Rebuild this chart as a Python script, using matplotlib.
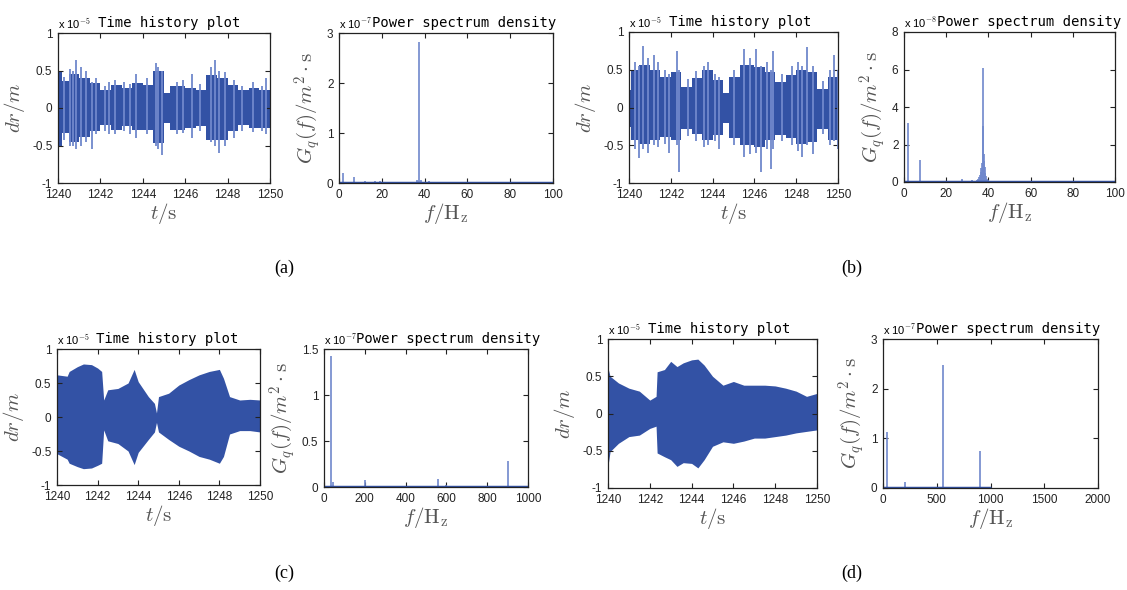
import numpy as np
import matplotlib
matplotlib.use('Agg')
import matplotlib.pyplot as plt

plt.rcParams['mathtext.fontset'] = 'cm'
plt.rcParams['font.family'] = ['Liberation Sans', 'DejaVu Sans']

# ---- time history envelopes (units of 1e-5 m) ----
t_a = [1240, 1240.2, 1240.5, 1241, 1241.5, 1242, 1242.5, 1243, 1243.5, 1244, 1244.5,
       1245, 1245.3, 1246, 1246.5, 1247, 1247.5, 1248, 1248.5, 1249, 1249.5, 1250]
hi_a = [0.49, 0.36, 0.45, 0.40, 0.33, 0.24, 0.31, 0.27, 0.33, 0.31, 0.49,
        0.20, 0.29, 0.27, 0.24, 0.44, 0.40, 0.31, 0.24, 0.27, 0.24, 0.24]
lo_a = [-0.51, -0.33, -0.45, -0.38, -0.31, -0.22, -0.29, -0.24, -0.29, -0.29, -0.47,
        -0.20, -0.29, -0.27, -0.24, -0.42, -0.42, -0.31, -0.22, -0.27, -0.27, -0.27]
sp_t_a = [1240.0, 1240.3, 1240.55, 1240.7, 1240.85, 1241.1, 1241.3, 1241.6, 1241.8,
          1242.2, 1242.4, 1242.7, 1243.1, 1243.4, 1243.7, 1244.2, 1244.6, 1244.7,
          1244.9, 1245.6, 1245.9, 1246.3, 1246.7, 1247.2, 1247.4, 1247.6, 1247.9,
          1248.3, 1248.7, 1249.2, 1249.6, 1249.8]
sp_hi_a = [0.45, 0.42, 0.52, 0.50, 0.64, 0.55, 0.50, 0.35, 0.40,
           0.30, 0.35, 0.38, 0.35, 0.32, 0.45, 0.40, 0.60, 0.55,
           0.50, 0.35, 0.38, 0.45, 0.32, 0.55, 0.64, 0.50, 0.48,
           0.38, 0.30, 0.35, 0.30, 0.40]
sp_lo_a = [-0.68, -0.42, -0.50, -0.50, -0.55, -0.50, -0.45, -0.55, -0.35,
           -0.30, -0.35, -0.35, -0.30, -0.35, -0.40, -0.35, -0.50, -0.55,
           -0.63, -0.35, -0.33, -0.40, -0.30, -0.45, -0.50, -0.60, -0.50,
           -0.40, -0.30, -0.32, -0.30, -0.35]

t_b = [1240, 1240.1, 1240.5, 1241, 1241.5, 1242, 1242.5, 1243, 1243.5, 1244, 1244.5,
       1244.8, 1245.3, 1246, 1246.5, 1247, 1247.5, 1248, 1248.5, 1249, 1249.5, 1250]
hi_b = [0.23, 0.50, 0.56, 0.50, 0.41, 0.47, 0.27, 0.39, 0.50, 0.36, 0.19,
        0.41, 0.56, 0.54, 0.47, 0.34, 0.43, 0.50, 0.47, 0.25, 0.41, 0.41]
lo_b = [-0.26, -0.43, -0.48, -0.43, -0.39, -0.43, -0.28, -0.35, -0.43, -0.36, -0.21,
        -0.41, -0.50, -0.52, -0.43, -0.36, -0.40, -0.48, -0.46, -0.28, -0.43, -0.43]
sp_t_b = [1240.0, 1240.3, 1240.5, 1240.65, 1240.9, 1241.2, 1241.4, 1241.7, 1241.9,
          1242.3, 1242.4, 1242.8, 1243.2, 1243.6, 1243.8, 1244.1, 1244.3, 1245.0,
          1245.5, 1245.8, 1246.1, 1246.3, 1246.6, 1246.8, 1246.9, 1247.3, 1247.8,
          1248.1, 1248.3, 1248.5, 1248.8, 1249.3, 1249.6, 1249.8, 1250.0]
sp_hi_b = [0.75, 0.60, 0.55, 0.82, 0.65, 0.70, 0.60, 0.50, 0.45,
           0.75, 0.50, 0.38, 0.48, 0.55, 0.60, 0.45, 0.40, 0.50,
           0.78, 0.65, 0.78, 0.55, 0.60, 0.50, 0.75, 0.45, 0.55,
           0.60, 0.55, 0.80, 0.55, 0.35, 0.50, 0.70, 0.50]
sp_lo_b = [-0.70, -0.55, -0.67, -0.55, -0.60, -0.50, -0.52, -0.48, -0.60,
           -0.50, -0.85, -0.38, -0.45, -0.52, -0.50, -0.45, -0.55, -0.50,
           -0.65, -0.62, -0.60, -0.85, -0.55, -0.82, -0.55, -0.45, -0.50,
           -0.58, -0.65, -0.50, -0.62, -0.35, -0.50, -0.45, -0.55]

t_c = [1240, 1240.5, 1240.6, 1241, 1241.3, 1241.7, 1242, 1242.2, 1242.3, 1242.5, 1243,
       1243.5, 1243.8, 1244, 1244.5, 1244.8, 1244.9, 1245, 1245.5, 1246, 1246.5, 1247,
       1247.5, 1248, 1248.2, 1248.5, 1249, 1249.5, 1250]
hi_c = [0.62, 0.60, 0.67, 0.74, 0.78, 0.77, 0.72, 0.67, 0.25, 0.40, 0.42,
        0.50, 0.70, 0.52, 0.30, 0.20, 0.06, 0.30, 0.35, 0.47, 0.55, 0.62,
        0.67, 0.70, 0.57, 0.30, 0.25, 0.26, 0.25]
lo_c = [-0.54, -0.62, -0.68, -0.73, -0.76, -0.75, -0.71, -0.68, -0.19, -0.35, -0.39,
        -0.50, -0.70, -0.52, -0.33, -0.22, -0.08, -0.22, -0.33, -0.43, -0.50, -0.58,
        -0.62, -0.68, -0.58, -0.25, -0.20, -0.20, -0.22]

t_d = [1240, 1240.1, 1240.5, 1241, 1241.5, 1242, 1242.3, 1242.35, 1242.7, 1243, 1243.3,
       1243.6, 1244, 1244.3, 1244.6, 1245, 1245.5, 1246, 1246.5, 1247, 1247.5, 1248,
       1248.5, 1249, 1249.5, 1250]
hi_d = [0.61, 0.50, 0.41, 0.34, 0.30, 0.18, 0.23, 0.56, 0.59, 0.70, 0.63,
        0.68, 0.72, 0.73, 0.65, 0.50, 0.38, 0.43, 0.38, 0.38, 0.38, 0.37,
        0.34, 0.30, 0.23, 0.27]
lo_d = [-0.70, -0.51, -0.40, -0.31, -0.29, -0.20, -0.17, -0.53, -0.58, -0.62, -0.71,
        -0.66, -0.67, -0.73, -0.62, -0.44, -0.38, -0.40, -0.37, -0.33, -0.33, -0.31,
        -0.29, -0.26, -0.24, -0.22]

# ---- power spectrum spikes ----
f_a = [2, 7, 12, 17, 19, 36.5, 37.5, 38.2, 42]
p_a = [0.20, 0.13, 0.05, 0.05, 0.04, 0.07, 2.82, 0.07, 0.05]        # x1e-7
f_b = [2, 7.5, 27.5, 32, 34.5, 35, 35.5, 36, 36.3, 36.6, 37, 37.3, 37.5, 37.7, 38, 38.3,
       38.6, 39, 39.5, 40, 41]
p_b = [3.15, 1.2, 0.15, 0.1, 0.1, 0.15, 0.25, 0.4, 0.55, 0.75, 1.0, 3.0, 6.1, 1.5, 1.1,
       0.8, 0.5, 0.3, 0.15, 0.1, 0.05]                              # x1e-8
f_c = [35, 45, 200, 560, 600, 900]
p_c = [1.42, 0.05, 0.08, 0.09, 0.02, 0.28]                          # x1e-7
f_d = [35, 200, 560, 900]
p_d = [1.13, 0.13, 2.47, 0.75]                                      # x1e-7
fmax_data = [100, 100, 1000, 1000]

BLUE = '#3352a5'
LIGHT = '#7088cc'
W, H = 1127, 590

fig = plt.figure(figsize=(W / 100, H / 100), dpi=100)


def add_ax(l, r, t, b):
    return fig.add_axes([l / W, 1 - b / H, (r - l) / W, (b - t) / H])


def style(ax):
    ax.tick_params(direction='in', top=True, right=True, length=3.5, width=0.8,
                   labelsize=8.5, colors='#222222', pad=4)
    for s in ax.spines.values():
        s.set_linewidth(0.9)
        s.set_color('#222222')


def time_panel(box, t, hi, lo, step, sp_t=None, sp_hi=None, sp_lo=None):
    ax = add_ax(*box)
    if sp_t is not None:
        ax.vlines(sp_t, sp_lo, sp_hi, color=LIGHT, lw=1.3)
    ax.fill_between(t, lo, hi, step='post' if step else None, color=BLUE, lw=0)
    ax.set_xlim(1240, 1250)
    ax.set_ylim(-1, 1)
    ax.set_xticks(range(1240, 1251, 2))
    ax.set_yticks([-1, -0.5, 0, 0.5, 1])
    ax.set_yticklabels(['-1', '-0.5', '0', '0.5', '1'])
    style(ax)
    ax.set_xlabel(r'$t/\mathrm{s}$', fontsize=15, color='#555555', labelpad=0)
    ax.set_ylabel(r'$dr/m$', fontsize=15, color='#555555', labelpad=4)
    ax.text(0, 1.015, r'x 10$^{-5}$', transform=ax.transAxes, fontsize=8, va='bottom', ha='left')
    ax.text(0.19, 1.02, 'Time history plot', transform=ax.transAxes, fontsize=10,
            family='DejaVu Sans Mono', va='bottom', ha='left')
    return ax


def psd_panel(box, f, p, fmax, xmax, ymax, xstep, ystep, exp):
    ax = add_ax(*box)
    ax.vlines(f, 0, p, color=LIGHT, lw=1.2)
    ax.plot([0, fmax], [0, 0], color=BLUE, lw=2.5, solid_capstyle='butt')
    ax.set_xlim(0, xmax)
    ax.set_ylim(0, ymax)
    ax.set_xticks(np.arange(0, xmax + 1, xstep))
    yt = np.arange(0, ymax + 1e-9, ystep)
    ax.set_yticks(yt)
    ax.set_yticklabels(['%g' % v for v in yt])
    style(ax)
    ax.set_xlabel(r'$f/\mathrm{H}_\mathrm{z}$', fontsize=15, color='#555555', labelpad=0)
    ax.set_ylabel(r'$G_q(f)/m^2\cdot\mathrm{s}$', fontsize=15, color='#555555', labelpad=3)
    ax.text(0, 1.015, r'x 10$^{-%d}$' % exp, transform=ax.transAxes, fontsize=8, va='bottom', ha='left')
    ax.text(0.155, 1.02, 'Power spectrum density', transform=ax.transAxes, fontsize=10,
            family='DejaVu Sans Mono', va='bottom', ha='left')
    return ax


time_panel((58, 270, 33, 183), t_a, hi_a, lo_a, True, sp_t_a, sp_hi_a, sp_lo_a)
psd_panel((339, 553, 33, 183), f_a, p_a, fmax_data[0], 100, 3, 20, 1, 7)
time_panel((629, 838, 32, 183), t_b, hi_b, lo_b, True, sp_t_b, sp_hi_b, sp_lo_b)
psd_panel((904, 1115, 32, 182), f_b, p_b, fmax_data[1], 100, 8, 20, 2, 8)
time_panel((57, 260, 349, 485), t_c, hi_c, lo_c, False)
psd_panel((324, 528, 349, 487), f_c, p_c, fmax_data[2], 1000, 1.5, 200, 0.5, 7)
time_panel((608, 817, 339, 488), t_d, hi_d, lo_d, False)
psd_panel((883, 1098, 339, 488), f_d, p_d, fmax_data[3], 2000, 3, 500, 1, 7)

for lab, x, y in [('(a)', 284, 268), ('(b)', 852, 268), ('(c)', 284, 573), ('(d)', 852, 573)]:
    fig.text(x / W, 1 - y / H, lab, fontsize=13, family='Liberation Serif', ha='center', va='center')

fig.savefig('out.png', dpi=100)
